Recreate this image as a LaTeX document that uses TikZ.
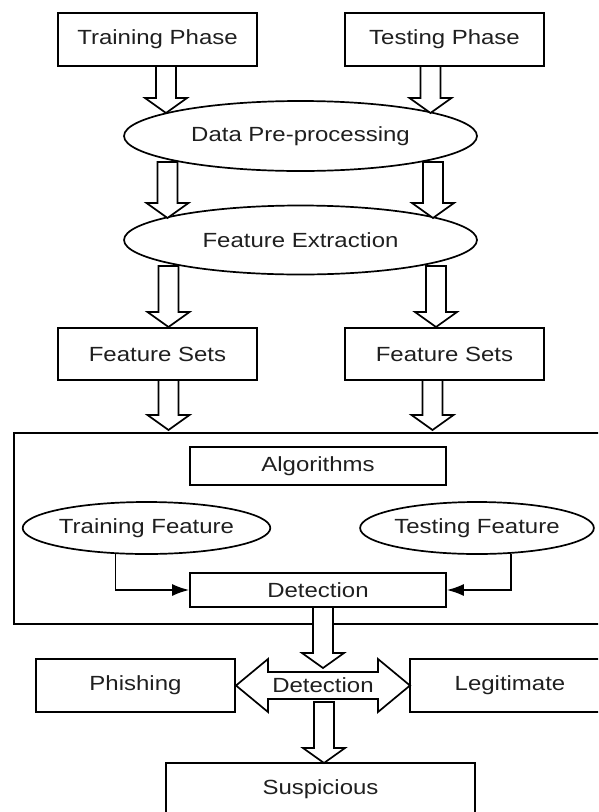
\documentclass[tikz,border=0pt]{standalone}
\usepackage{fontspec}
\newfontfamily\diafont{Liberation Sans}[FakeStretch=1.17]
\usetikzlibrary{arrows.meta,calc,shapes.geometric}
\tikzset{
  txt/.style={font=\diafont\fontsize{20.5}{24}\selectfont, text=black!88},
  box/.style={txt, draw, line width=1.7pt, inner sep=0pt, minimum width=199pt, minimum height=53pt},
  oval/.style={txt, draw, ellipse, line width=1.7pt, inner sep=0pt},
  blk/.style={draw, line width=1.7pt, fill=white, line join=miter},
  frame/.style={draw, line width=1.7pt},
  conn/.style={draw, line width=1.7pt, -{Latex[length=17pt,width=12pt]}},
}
\newcommand\blkdown[3]{%
  \draw[blk] (#1-10,#2) -- (#1-10,#3-15) -- (#1-21,#3-15) -- (#1,#3) -- (#1+21,#3-15) -- (#1+10,#3-15) -- (#1+10,#2) -- cycle;}
\begin{document}
\begin{tikzpicture}[x=1pt,y=-1pt]
\useasboundingbox (0,0) rectangle (598,812);
\clip (0,0) rectangle (598,812);
% top boxes
\node[box] (tp) at (157.5,39.5) {Training Phase};
\node[box] (tsp) at (444.5,39.5) {Testing Phase};
% ellipses
\node[oval, minimum width=353pt, minimum height=70pt] (dp) at (300.5,136) {Data Pre-processing};
\node[oval, minimum width=353pt, minimum height=69pt] (fe) at (300.5,240) {Feature Extraction};
% feature sets
\node[box, minimum height=52pt] (fsl) at (157.5,354) {Feature Sets};
\node[box, minimum height=52pt] (fsr) at (444.5,354) {Feature Sets};
% container
\draw[frame] (14,433) rectangle (612,624);
\node[box, minimum width=256pt, minimum height=38pt] (alg) at (318,466) {Algorithms};
\node[oval, minimum width=221pt, minimum height=52pt] (trf) at (146.5,528) {Training Feature};
\node[oval, minimum width=222pt, minimum height=52pt] (tsf) at (477,528) {Testing Feature};
\node[box, minimum width=256pt, minimum height=34pt] (det) at (318,590) {Detection};
\draw[conn] (trf.-140.7) |- (det.west);
\draw[conn] (tsf.-37.9) |- (det.east);
% block arrows top part
\blkdown{166}{66}{113}
\blkdown{430.5}{66}{113}
\blkdown{167.5}{162}{218}
\blkdown{433}{162}{218}
\blkdown{168.5}{266}{327}
\blkdown{436}{266}{327}
\blkdown{168.5}{380}{430}
\blkdown{432.5}{380}{430}
% bottom part
\node[box] (ph) at (135.5,685.5) {Phishing};
\node[box, minimum width=200pt] (lg) at (510,685.5) {Legitimate};
\node[box, minimum width=309pt, minimum height=52pt] (sus) at (320.5,789) {Suspicious};
\blkdown{323}{607}{668}
\draw[blk] (236,685.5) -- (268,659) -- (268,672) -- (378,672) -- (378,659) -- (410,685.5)
  -- (378,712) -- (378,699) -- (268,699) -- (268,712) -- cycle;
\node[txt, inner sep=0pt] (dd) at (323,685.5) {Detection};
\blkdown{324}{702}{763}
\end{tikzpicture}
\end{document}
